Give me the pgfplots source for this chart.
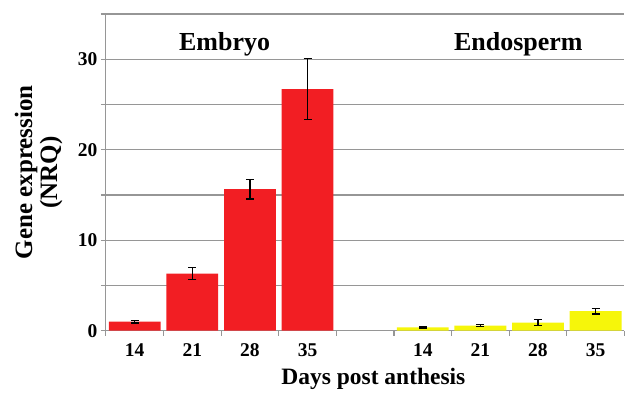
\documentclass[border=0pt]{standalone}
\usepackage{pgfplots}
\pgfplotsset{compat=1.18}
\usepackage{fontspec}
\setmainfont{Liberation Serif}
\definecolor{barred}{RGB}{242,30,35}
\definecolor{baryel}{RGB}{246,246,10}
\definecolor{gridgray}{RGB}{150,150,150}
\begin{document}
\begin{tikzpicture}
\path (-106pt,-62pt) rectangle (519pt,331pt);
\begin{axis}[
  scale only axis, width=519pt, height=317pt,
  xmin=-0.5, xmax=8.5, ymin=0, ymax=35,
  axis lines*=left,
  axis line style={gridgray, line width=1.2pt},
  xtick={0,1,2,3,5,6,7,8},
  xticklabels={14,21,28,35,14,21,28,35},
  minor xtick={-0.5,0.5,1.5,2.5,3.5,4.5,5.5,6.5,7.5,8.5},
  major x tick style={draw=none},
  ytick={0,10,20,30},
  minor ytick={5,15,25,35},
  ymajorgrids, yminorgrids,
  grid style={gridgray, line width=1.2pt},
  minor grid style={gridgray, line width=1.2pt},
  tick align=outside,
  major tick length=5pt, minor tick length=5pt,
  tick style={gridgray, line width=1.2pt},
  /pgf/number format/assume math mode=true,
  ticklabel style={font=\bfseries\fontsize{19.5}{22}\selectfont},
  xticklabel style={yshift=-4pt},
  xlabel={Days post anthesis},
  xlabel style={font=\bfseries\fontsize{23.5}{28}\selectfont, at={(axis description cs:0.516,0)}, anchor=base, yshift=-54pt},
  ylabel={Gene expression\\(NRQ)},
  ylabel style={align=center, font=\bfseries\fontsize{25}{25}\selectfont, at={(axis description cs:-0.077,0.5)}, anchor=south},
]
\addplot[ybar, bar width=0.9, bar shift=0pt, fill=barred, draw=none,
  error bars/.cd, y dir=both, y explicit,
  error bar style={black, line width=1.2pt},
  error mark options={rotate=90, mark size=4pt, black, line width=1.2pt}]
  coordinates {(0,1.0) +- (0,0.15) (1,6.3) +- (0,0.65) (2,15.65) +- (0,1.1) (3,26.7) +- (0,3.4)};
\addplot[ybar, bar width=0.9, bar shift=0pt, fill=baryel, draw=none,
  error bars/.cd, y dir=both, y explicit,
  error bar style={black, line width=1.2pt},
  error mark options={rotate=90, mark size=4pt, black, line width=1.2pt}]
  coordinates {(5,0.36) +- (0,0.06) (6,0.55) +- (0,0.12) (7,0.9) +- (0,0.3) (8,2.15) +- (0,0.3)};
\node[font=\bfseries\fontsize{26}{30}\selectfont] at (axis cs:1.56,31.6) {Embryo};
\node[font=\bfseries\fontsize{26}{30}\selectfont] at (axis cs:6.66,31.6) {Endosperm};
\end{axis}
\draw[gridgray, line width=1.2pt] (0pt,317pt) -- (519pt,317pt);
\end{tikzpicture}
\end{document}
